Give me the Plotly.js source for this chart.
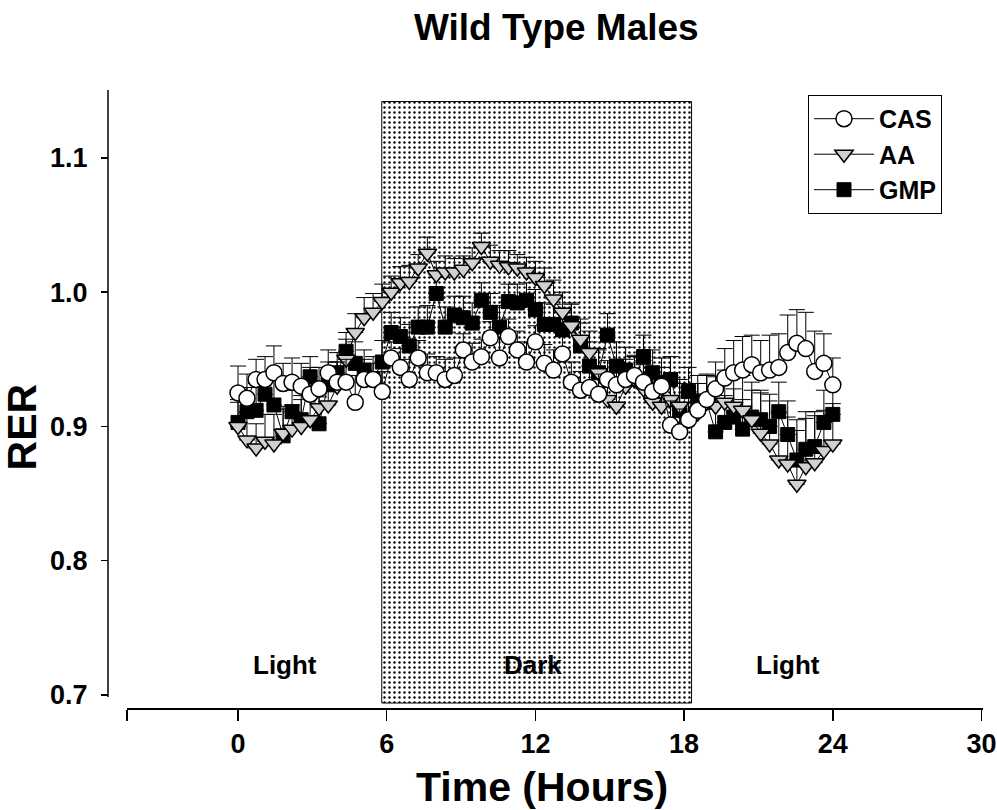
<!DOCTYPE html>
<html>
<head>
<meta charset="utf-8">
<script src="https://cdn.plot.ly/plotly-3.0.1.min.js"></script>
<style>html,body{margin:0;padding:0;background:#fff}#chart{width:997px;height:810px}</style>
</head>
<body>
<div id="chart"></div>
<script>
// Time of day (hours)
const times = [0,0.36,0.73,1.09,1.45,1.82,2.18,2.55,2.91,3.27,3.64,4.00,4.36,4.73,5.09,5.45,5.82,6.18,6.55,6.91,7.27,7.64,8.00,8.36,8.73,9.09,9.45,9.82,10.18,10.55,10.91,11.27,11.64,12.00,12.36,12.73,13.09,13.45,13.82,14.18,14.55,14.91,15.27,15.64,16.00,16.36,16.73,17.09,17.45,17.82,18.18,18.55,18.91,19.27,19.64,20.00,20.36,20.73,21.09,21.45,21.82,22.18,22.55,22.91,23.27,23.64,24.00];

const casRER = [0.925,0.921,0.935,0.935,0.940,0.932,0.933,0.930,0.924,0.928,0.940,0.933,0.933,0.918,0.935,0.935,0.926,0.951,0.944,0.935,0.951,0.940,0.940,0.935,0.938,0.957,0.948,0.952,0.966,0.951,0.967,0.957,0.948,0.963,0.947,0.942,0.954,0.933,0.927,0.929,0.924,0.935,0.931,0.935,0.938,0.933,0.926,0.930,0.901,0.896,0.905,0.912,0.920,0.928,0.936,0.940,0.942,0.946,0.940,0.942,0.944,0.955,0.962,0.958,0.941,0.947,0.931];
const casSEM = [0.020,0.018,0.015,0.017,0.020,0.015,0.018,0.017,0.020,0.016,0.017,0.015,0.017,0.020,0.015,0.012,0.015,0.012,0.014,0.015,0.013,0.014,0.012,0.015,0.013,0.012,0.014,0.013,0.012,0.015,0.013,0.014,0.015,0.012,0.014,0.015,0.013,0.015,0.014,0.016,0.015,0.014,0.016,0.015,0.014,0.016,0.015,0.014,0.018,0.017,0.018,0.020,0.019,0.020,0.022,0.024,0.025,0.022,0.024,0.026,0.025,0.028,0.025,0.027,0.030,0.022,0.020];

const aaRER = [0.900,0.890,0.884,0.889,0.887,0.895,0.898,0.900,0.905,0.914,0.916,0.930,0.950,0.970,0.981,0.985,0.993,1.000,1.007,1.008,1.018,1.029,1.013,1.015,1.015,1.017,1.022,1.034,1.023,1.020,1.019,1.018,1.015,1.011,1.005,0.995,0.985,0.975,0.965,0.955,0.940,0.920,0.915,0.930,0.935,0.928,0.918,0.915,0.920,0.915,0.905,0.910,0.918,0.915,0.918,0.915,0.912,0.905,0.895,0.887,0.875,0.872,0.857,0.870,0.873,0.882,0.887];
const aaSEM = [0.020,0.020,0.018,0.020,0.022,0.020,0.018,0.020,0.020,0.018,0.020,0.018,0.015,0.014,0.015,0.014,0.013,0.012,0.012,0.012,0.010,0.012,0.010,0.012,0.010,0.010,0.011,0.010,0.012,0.011,0.012,0.010,0.011,0.012,0.013,0.014,0.015,0.016,0.015,0.016,0.018,0.017,0.018,0.016,0.017,0.018,0.020,0.019,0.018,0.020,0.020,0.022,0.020,0.022,0.024,0.025,0.026,0.028,0.030,0.032,0.035,0.035,0.040,0.036,0.035,0.030,0.030];

const gmpRER = [0.903,0.911,0.912,0.924,0.916,0.893,0.911,0.905,0.937,0.902,0.931,0.940,0.956,0.947,0.942,0.935,0.948,0.970,0.967,0.960,0.974,0.974,0.999,0.974,0.983,0.981,0.977,0.994,0.985,0.974,0.993,0.992,0.994,0.987,0.976,0.976,0.972,0.977,0.960,0.945,0.940,0.968,0.945,0.942,0.935,0.952,0.940,0.933,0.935,0.912,0.926,0.919,0.918,0.896,0.903,0.907,0.898,0.907,0.905,0.900,0.911,0.894,0.875,0.883,0.885,0.903,0.909];
const gmpSEM = [0.015,0.018,0.020,0.015,0.018,0.020,0.016,0.018,0.015,0.020,0.017,0.015,0.014,0.016,0.015,0.017,0.016,0.015,0.014,0.016,0.015,0.016,0.012,0.015,0.014,0.016,0.015,0.013,0.014,0.016,0.013,0.014,0.013,0.015,0.016,0.015,0.016,0.015,0.017,0.018,0.017,0.016,0.018,0.017,0.018,0.016,0.017,0.018,0.017,0.020,0.018,0.019,0.020,0.022,0.020,0.021,0.022,0.020,0.022,0.024,0.022,0.025,0.030,0.028,0.026,0.024,0.022];

// Dark phase (hours) and its RER extent
const darkPeriod = [5.8, 18.3];
const darkRER = [0.694, 1.142];
const phaseLabels = ['Light', 'Dark', 'Light'];
const phaseHours = [1.9, 11.9, 22.2];
const seriesNames = ['CAS', 'AA', 'GMP'];

const FONT = 'Liberation Sans, Arial, Helvetica, sans-serif';
const zeros = times.map(() => 0);

function series(name, y, err, marker) {
  return {
    type: 'scatter', mode: 'lines+markers', name: name,
    x: times, y: y,
    line: {color: '#000', width: 1},
    marker: marker,
    error_y: {type: 'data', symmetric: false, array: err, arrayminus: zeros,
              color: '#000', thickness: 1, width: 8},
    cliponaxis: false
  };
}

const darkBar = {
  type: 'bar', x: [(darkPeriod[0] + darkPeriod[1]) / 2], y: [darkRER[1] - darkRER[0]],
  base: [darkRER[0]], width: [darkPeriod[1] - darkPeriod[0]],
  marker: {color: '#ffffff', line: {color: '#000', width: 1},
           pattern: {shape: '.', fgcolor: '#000', bgcolor: '#fff', size: 5, solidity: 0.18}},
  showlegend: false, hoverinfo: 'skip'
};

const traces = [
  darkBar,
  series(seriesNames[2], gmpRER, gmpSEM, {symbol: 'square', size: 14, color: '#000', line: {color: '#000', width: 1}}),
  series(seriesNames[1], aaRER, aaSEM, {symbol: 'triangle-down', size: 16, color: '#d0d0d0', line: {color: '#000', width: 1.5}}),
  series(seriesNames[0], casRER, casSEM, {symbol: 'circle', size: 16, color: '#fff', line: {color: '#000', width: 1.5}})
];

const annotations = phaseLabels.map((t, i) => ({
  x: phaseHours[i], y: 0.722, xref: 'x', yref: 'y', text: t, showarrow: false,
  font: {family: FONT, size: 26, weight: 'bold', color: '#000'}
}));
// axis titles
annotations.push({
  text: 'RER', textangle: -90, xref: 'paper', yref: 'y', x: -0.0983, y: 0.9,
  xanchor: 'center', yanchor: 'middle', showarrow: false,
  font: {family: FONT, size: 41, weight: 'bold', color: '#000'}
});
annotations.push({
  text: 'Time (Hours)', xref: 'paper', yref: 'paper', x: 0.496, y: -0.128,
  xanchor: 'center', yanchor: 'middle', showarrow: false,
  font: {family: FONT, size: 41, weight: 'bold', color: '#000'}
});

const layout = {
  width: 997, height: 810,
  margin: {l: 108, r: 14, t: 90, b: 102},
  paper_bgcolor: '#fff', plot_bgcolor: 'rgba(0,0,0,0)',
  showlegend: true,
  title: {text: 'Wild Type Males', x: 0.558, xref: 'container', xanchor: 'center',
          y: 0.967, yref: 'container', yanchor: 'middle',
          font: {family: FONT, size: 37, weight: 'bold', color: '#000'}},
  xaxis: {
    domain: [0.0217, 1], range: [-4.48, 30.06],
    tickvals: [-4.48, 0, 6, 12, 18, 24, 30], ticktext: ['', '0', '6', '12', '18', '24', '30'],
    ticks: 'outside', ticklen: 11, tickwidth: 1.5, tickcolor: '#000',
    showline: true, linewidth: 2, linecolor: '#000', showgrid: false, zeroline: false,
    tickfont: {family: FONT, size: 27, weight: 'bold', color: '#000'}
  },
  yaxis: {
    anchor: 'free', position: 0,
    range: [0.6903, 1.1506],
    tickvals: [0.7, 0.8, 0.9, 1.0, 1.1], ticktext: ['0.7', '0.8', '0.9', '1.0', '1.1'],
    ticks: 'outside', ticklen: 7, tickwidth: 1.5, tickcolor: '#000',
    ticklabelstandoff: 8,
    showline: false, showgrid: false, zeroline: false,
    tickfont: {family: FONT, size: 27, weight: 'bold', color: '#000'}
  },
  shapes: [
    {type: 'line', xref: 'paper', yref: 'y', x0: 0, x1: 0, y0: 0.6985, y1: 1.1506,
     line: {color: '#000', width: 1.5}}
  ],
  legend: {
    x: 0.8, y: 0.992, xanchor: 'left', yanchor: 'top',
    traceorder: 'reversed', bordercolor: '#000', borderwidth: 1, bgcolor: '#fff',
    font: {family: FONT, size: 25, weight: 'bold', color: '#000'},
    itemwidth: 60, tracegroupgap: 0
  },
  annotations: annotations
};

Plotly.newPlot('chart', traces, layout, {displayModeBar: false, staticPlot: true});
</script>
</body>
</html>
